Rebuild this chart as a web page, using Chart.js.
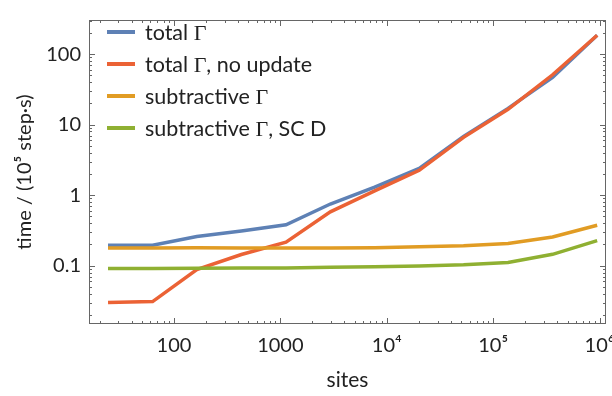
<!DOCTYPE html>
<html>
<head>
<meta charset="utf-8">
<script src="https://cdn.jsdelivr.net/npm/chart.js@4/dist/chart.umd.min.js"></script>
<style>
  body { margin: 0; background: #fff; }
  #wrap { position: relative; width: 612px; height: 396px; }
  #legend { position: absolute; left: 107px; top: 16px; font-family: Lato, "Open Sans", sans-serif; font-size: 21.5px; color: #222; }
  .row { height: 32px; display: flex; align-items: center; white-space: nowrap; }
  .sw { width: 28px; height: 4px; margin-right: 10px; }
  .g { font-family: "Liberation Serif", "DejaVu Serif", serif; font-size: 22px; }
</style>
</head>
<body>
<div id="wrap">
  <canvas id="c" width="612" height="396"></canvas>
  <div id="legend"></div>
</div>
<script>
const sites = [24, 63, 164, 430, 1130, 2950, 7700, 20200, 52700, 138000, 362000, 950000];
const totalGamma = [0.195, 0.195, 0.26, 0.31, 0.38, 0.75, 1.3, 2.4, 6.8, 17, 47, 185];
const totalNoUpdate = [0.030, 0.031, 0.088, 0.144, 0.215, 0.58, 1.15, 2.25, 6.6, 16.5, 51, 185];
const subtractive = [0.178, 0.178, 0.179, 0.178, 0.178, 0.178, 0.180, 0.185, 0.192, 0.207, 0.255, 0.375];
const subtractiveSCD = [0.091, 0.091, 0.092, 0.093, 0.093, 0.095, 0.097, 0.099, 0.103, 0.111, 0.145, 0.227];

const seriesLabels = ['total Γ', 'total Γ, no update', 'subtractive Γ', 'subtractive Γ, SC D'];
const seriesColors = ['#5E81B5', '#EB6235', '#E19C24', '#8FB032'];

const xTickValues = [100, 1000, 1e4, 1e5, 1e6];
const xTickLabels = ['100', '1000', '10⁴', '10⁵', '10⁶'];
const yTickValues = [0.1, 1, 10, 100];
const yTickLabels = ['0.1', '1', '10', '100'];

const font = 'Lato, "Open Sans", sans-serif';

function points(ys) {
  return sites.map((s, i) => ({ x: s, y: ys[i] }));
}

const allSeries = [totalGamma, totalNoUpdate, subtractive, subtractiveSCD];
const datasets = allSeries.map((ys, i) => ({
  label: seriesLabels[i],
  data: points(ys),
  borderColor: seriesColors[i],
  backgroundColor: seriesColors[i],
  borderWidth: 3.5,
  pointRadius: 0,
  tension: 0,
  order: allSeries.length - i
}));

// frame with inward ticks on all four sides, like the original
const framePlugin = {
  id: 'frame',
  afterDraw(chart) {
    const { ctx, chartArea: a, scales } = chart;
    ctx.save();
    ctx.strokeStyle = '#666';
    ctx.lineWidth = 1;
    ctx.strokeRect(a.left + 0.5, a.top + 0.5, a.right - a.left - 1, a.bottom - a.top - 1);
    ctx.beginPath();
    for (let d = -3; d <= 7; d++) {
      for (let m = 1; m <= 9; m++) {
        const v = m * Math.pow(10, d);
        const len = m === 1 ? 6 : 3;
        if (v >= scales.x.min && v <= scales.x.max) {
          const px = Math.round(scales.x.getPixelForValue(v)) + 0.5;
          ctx.moveTo(px, a.bottom); ctx.lineTo(px, a.bottom - len);
          ctx.moveTo(px, a.top); ctx.lineTo(px, a.top + len);
        }
        if (v >= scales.y.min && v <= scales.y.max) {
          const py = Math.round(scales.y.getPixelForValue(v)) + 0.5;
          ctx.moveTo(a.left, py); ctx.lineTo(a.left + len, py);
          ctx.moveTo(a.right, py); ctx.lineTo(a.right - len, py);
        }
      }
    }
    ctx.stroke();
    ctx.restore();
  }
};

const chart = new Chart(document.getElementById('c'), {
  type: 'line',
  data: { datasets: datasets },
  options: {
    responsive: false,
    animation: false,
    layout: { padding: { top: 4, right: 6, left: 0, bottom: 0 } },
    plugins: { legend: { display: false }, tooltip: { enabled: false } },
    scales: {
      x: {
        type: 'logarithmic',
        min: 15.9,
        max: 1.15e6,
        grid: { display: false, drawTicks: false },
        border: { display: false },
        afterBuildTicks: (scale) => { scale.ticks = xTickValues.map(v => ({ value: v })); },
        afterFit: (scale) => { scale.height = 72; scale.paddingLeft = 0; scale.paddingRight = 0; },
        ticks: {
          autoSkip: false,
          maxRotation: 0,
          padding: 10,
          color: '#222',
          font: { family: font, size: 20 },
          callback: (v, i) => xTickLabels[i]
        },
        title: {
          display: true,
          text: 'sites',
          color: '#222',
          font: { family: font, size: 21 },
          padding: { top: 0, bottom: 3 }
        }
      },
      y: {
        type: 'logarithmic',
        min: 0.0149,
        max: 305,
        grid: { display: false, drawTicks: false },
        border: { display: false },
        afterBuildTicks: (scale) => { scale.ticks = yTickValues.map(v => ({ value: v })); },
        afterFit: (scale) => { scale.width = 89; },
        ticks: {
          autoSkip: false,
          padding: 8,
          color: '#222',
          font: { family: font, size: 20 },
          callback: (v, i) => yTickLabels[i]
        },
        title: {
          display: true,
          text: 'time / (10⁵ step·s)',
          color: '#222',
          font: { family: font, size: 20 },
          padding: { top: 13, bottom: 0 }
        }
      }
    }
  },
  plugins: [framePlugin]
});

// legend in the plot, Γ set in a serif face as in the original
const legend = document.getElementById('legend');
datasets.forEach((ds) => {
  const row = document.createElement('div');
  row.className = 'row';
  const sw = document.createElement('div');
  sw.className = 'sw';
  sw.style.background = ds.borderColor;
  row.appendChild(sw);
  const txt = document.createElement('span');
  ds.label.split('Γ').forEach((part, j) => {
    if (j > 0) {
      const g = document.createElement('span');
      g.className = 'g';
      g.textContent = 'Γ';
      txt.appendChild(g);
    }
    txt.appendChild(document.createTextNode(part));
  });
  row.appendChild(txt);
  legend.appendChild(row);
});
</script>
</body>
</html>
